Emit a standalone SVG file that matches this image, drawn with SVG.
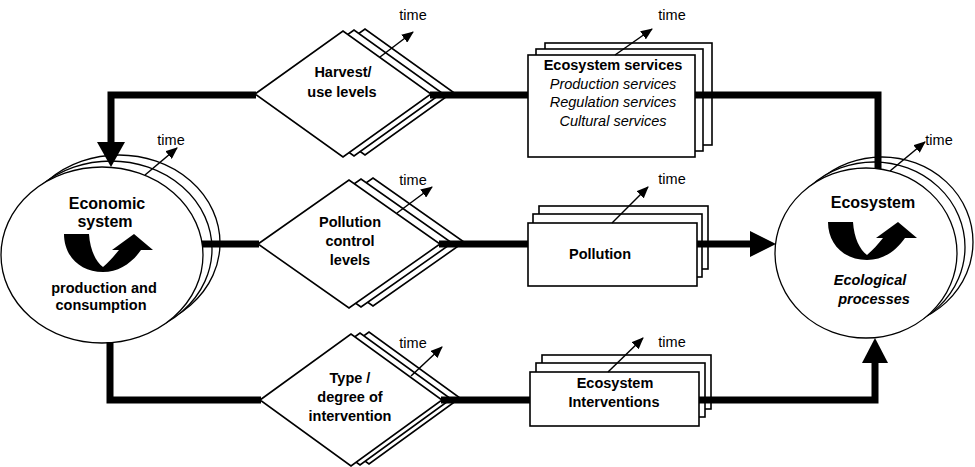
<svg xmlns="http://www.w3.org/2000/svg" xmlns:xlink="http://www.w3.org/1999/xlink" width="975" height="467" viewBox="0 0 975 467">
<style>
text{font-family:"Liberation Sans",Arial,Helvetica,sans-serif;fill:#000;text-anchor:middle}
.h{font-size:16px;font-weight:bold}
.b{font-size:14.5px;font-weight:bold}
.i{font-size:14.5px;font-style:italic}
.bi{font-size:14.5px;font-weight:bold;font-style:italic}
.t{font-size:14.5px}
.sh{fill:#fff;stroke:#000;stroke-width:1.6}
.ci{fill:#fff;stroke:#000;stroke-width:1.3}
.ta{stroke:#000;stroke-width:1.5;fill:none;marker-end:url(#ah)}
.con{stroke:#000;stroke-width:7;fill:none;stroke-linejoin:miter;stroke-linecap:butt}
.hd{fill:#000}
</style>
<defs>
<marker id="ah" viewBox="0 0 12 10" refX="11" refY="5" markerWidth="12" markerHeight="10" markerUnits="userSpaceOnUse" orient="auto"><path d="M0,0 L12,5 L0,10 z"/></marker>
<path id="cyc" d="M64,234 L89,234 C90,250 96,262 103,267 C109,262 114,256 119,250 L112,250 L134,234 L153,250 L141,250 C132,263 119,272 103,272 C80,272 64,256 64,234 Z"/>
</defs>

<g id="economic-system">
<ellipse class="ci" cx="119" cy="243" rx="101" ry="88"/>
<ellipse class="ci" cx="111" cy="249" rx="101" ry="88"/>
<ellipse class="ci" cx="102" cy="255" rx="101" ry="88"/>
<use xlink:href="#cyc"/>
<text class="h" x="107" y="209">Economic</text>
<text class="h" x="105" y="227">system</text>
<text class="b" x="104" y="293">production and</text>
<text class="b" x="101" y="310">consumption</text>
<line class="ta" x1="145" y1="175" x2="177" y2="148"/>
<text class="t" x="171" y="145">time</text>
</g>

<g id="ecosystem">
<ellipse class="ci" cx="882" cy="242" rx="91" ry="85"/>
<ellipse class="ci" cx="874" cy="247" rx="91" ry="85"/>
<ellipse class="ci" cx="866" cy="253" rx="91" ry="85"/>
<use xlink:href="#cyc" transform="translate(764,-12)"/>
<text class="h" x="873" y="208">Ecosystem</text>
<text class="bi" x="870" y="285">Ecological</text>
<text class="bi" x="874" y="304">processes</text>
<line class="ta" x1="890" y1="171" x2="925" y2="142"/>
<text class="t" x="939" y="145">time</text>
</g>

<g id="harvest">
<polygon class="sh" points="255,94 343,31 431,94 343,157" transform="translate(22,-2)"/>
<polygon class="sh" points="255,94 343,31 431,94 343,157" transform="translate(11,-1)"/>
<polygon class="sh" points="255,94 343,31 431,94 343,157"/>
<text class="b" x="343" y="77">Harvest/</text>
<text class="b" x="342" y="97">use levels</text>
<line class="ta" x1="380" y1="57" x2="413" y2="32"/>
<text class="t" x="413" y="20">time</text>
</g>

<g id="pollution-control">
<polygon class="sh" points="258,244 349,180 440,244 349,308" transform="translate(24,-2)"/>
<polygon class="sh" points="258,244 349,180 440,244 349,308" transform="translate(12,-1)"/>
<polygon class="sh" points="258,244 349,180 440,244 349,308"/>
<text class="b" x="350" y="227">Pollution</text>
<text class="b" x="350" y="246">control</text>
<text class="b" x="350" y="265">levels</text>
<line class="ta" x1="397" y1="213" x2="432" y2="187"/>
<text class="t" x="413" y="185">time</text>
</g>

<g id="intervention-type">
<polygon class="sh" points="260,400 351,334 442,400 351,466" transform="translate(18,-2)"/>
<polygon class="sh" points="260,400 351,334 442,400 351,466" transform="translate(9,-1)"/>
<polygon class="sh" points="260,400 351,334 442,400 351,466"/>
<text class="b" x="350" y="383">Type /</text>
<text class="b" x="350" y="402">degree of</text>
<text class="b" x="350" y="421">intervention</text>
<line class="ta" x1="411" y1="376" x2="442" y2="347"/>
<text class="t" x="413" y="348">time</text>
</g>

<g id="ecosystem-services">
<rect class="sh" x="528" y="55" width="167" height="102" transform="translate(17,-12)"/>
<rect class="sh" x="528" y="55" width="167" height="102" transform="translate(8,-6)"/>
<rect class="sh" x="528" y="55" width="167" height="102"/>
<text class="b" x="613" y="70">Ecosystem services</text>
<text class="i" x="613" y="89">Production services</text>
<text class="i" x="613" y="107">Regulation services</text>
<text class="i" x="613" y="126">Cultural services</text>
<line class="ta" x1="615" y1="55" x2="652" y2="29"/>
<text class="t" x="672" y="20">time</text>
</g>

<g id="pollution">
<rect class="sh" x="528" y="223" width="169" height="63" transform="translate(11,-17)"/>
<rect class="sh" x="528" y="223" width="169" height="63" transform="translate(5,-9)"/>
<rect class="sh" x="528" y="223" width="169" height="63"/>
<text class="b" x="600" y="259">Pollution</text>
<line class="ta" x1="612" y1="223" x2="648" y2="187"/>
<text class="t" x="672" y="184">time</text>
</g>

<g id="ecosystem-interventions">
<rect class="sh" x="530" y="372" width="169" height="54" transform="translate(12,-17)"/>
<rect class="sh" x="530" y="372" width="169" height="54" transform="translate(6,-9)"/>
<rect class="sh" x="530" y="372" width="169" height="54"/>
<text class="b" x="615" y="388">Ecosystem</text>
<text class="b" x="614" y="407">Interventions</text>
<line class="ta" x1="608" y1="372" x2="643" y2="338"/>
<text class="t" x="672" y="347">time</text>
</g>

<g id="connectors">
<path class="con" d="M256,95 H111 V144"/>
<polygon class="hd" points="97,142 125,142 111,167"/>
<path class="con" d="M430,95 H528"/>
<path class="con" d="M695,95 H878 V169"/>
<path class="con" d="M202,244 H259"/>
<path class="con" d="M439,244 H528"/>
<path class="con" d="M697,244 H752"/>
<polygon class="hd" points="750,231 750,257 776,244"/>
<path class="con" d="M110,342 V400 H261"/>
<path class="con" d="M441,400 H530"/>
<path class="con" d="M699,400 H875 V361"/>
<polygon class="hd" points="862,363 888,363 875,338"/>
</g>
</svg>
